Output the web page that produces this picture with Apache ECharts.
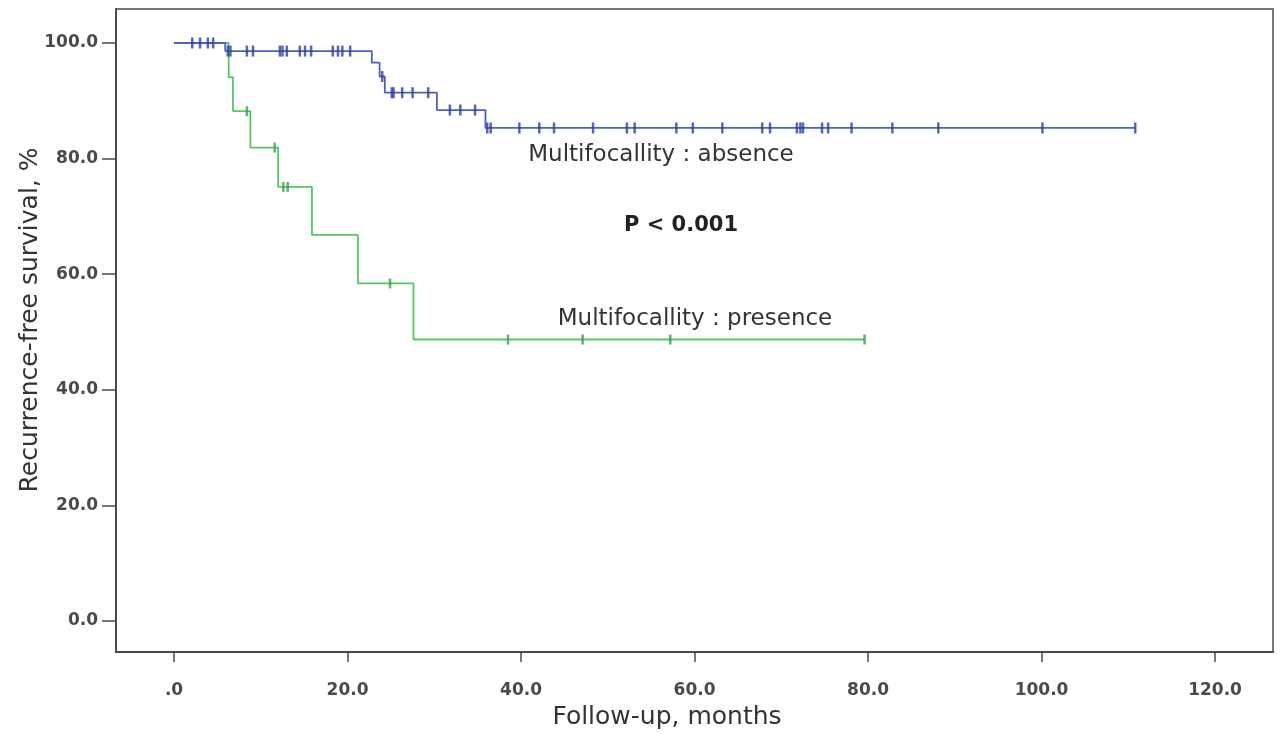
<!DOCTYPE html>
<html>
<head>
<meta charset="utf-8">
<script src="https://cdn.jsdelivr.net/npm/echarts@6/dist/echarts.min.js"></script>
<style>
    html, body { margin: 0; padding: 0; background: #fff; }
    #chart-container { width: 1283px; height: 734px; }
</style>
</head>
<body>
<div id="chart-container"></div>
<script>
// Kaplan-Meier steps (time in months, survival %)
var absenceTimes = [0, 5.9, 22.8, 23.7, 24.3, 30.3, 35.9, 110.8]
var absenceSurv = [100, 98.6, 96.6, 94.2, 91.4, 88.4, 85.3, 85.3]
var absenceCensored = [2.1, 3.0, 3.9, 4.5, 6.2, 6.5, 8.4, 9.1, 12.2, 12.5, 13.0, 14.5, 15.1, 15.8,
    18.3, 18.9, 19.4, 20.3, 24.0, 25.1, 25.3, 26.3, 27.5, 29.3, 31.8, 33.0, 34.7,
    36.1, 36.5, 39.8, 42.1, 43.8, 48.3, 52.2, 53.1, 57.9, 59.8, 63.2, 67.8, 68.7,
    71.8, 72.2, 72.5, 74.7, 75.4, 78.1, 82.8, 88.1, 100.1, 110.8]

var presenceTimes = [0, 6.3, 6.8, 8.8, 12.0, 15.9, 21.2, 27.6, 79.6]
var presenceSurv = [100, 94.1, 88.2, 81.9, 75.1, 66.8, 58.4, 48.7, 48.7]
var presenceCensored = [8.4, 11.6, 12.6, 13.1, 24.9, 38.5, 47.1, 57.2, 79.6]

var xTicks = [0, 20, 40, 60, 80, 100, 120]
var yTicks = [0, 20, 40, 60, 80, 100]

var labelAbsence = 'Multifocallity : absence'
var labelPresence = 'Multifocallity : presence'
var labelP = 'P < 0.001'

function stepPoints(times, surv) {
    var pts = []
    for (var i = 0; i < times.length; i++) {
        pts.push([times[i], surv[i]])
    }
    return pts
}

// survival level at time t, used to put censor marks on the curve
function survAt(times, surv, t) {
    var s = surv[0]
    for (var i = 0; i < times.length; i++) {
        if (times[i] <= t) s = surv[i]
    }
    return s
}

function censorPoints(times, surv, censored) {
    return censored.map(function (t) {
        return [t, survAt(times, surv, t)]
    })
}

var dom = document.getElementById('chart-container');
var myChart = echarts.init(dom, null, { renderer: 'canvas' });

var tickFont = {
    fontFamily: 'DejaVu Sans',
    fontWeight: 'bold',
    fontSize: 17,
    color: '#4a4a4a'
}

var option = {
    animation: false,
    backgroundColor: '#fff',
    grid: {
        left: 116,
        right: 10,
        top: 9,
        bottom: 82,
        show: true,
        borderColor: '#4a4a4a',
        borderWidth: 1.5
    },
    xAxis: {
        type: 'value',
        min: -6.69,
        max: 126.68,
        axisLine: { show: true, onZero: false, lineStyle: { color: '#4a4a4a', width: 2 } },
        axisTick: { show: true, customValues: xTicks, length: 10, lineStyle: { color: '#4a4a4a', width: 1.5 } },
        axisLabel: Object.assign({
            customValues: xTicks,
            margin: 30,
            formatter: function (v) { return v === 0 ? '.0' : v.toFixed(1) }
        }, tickFont),
        splitLine: { show: false }
    },
    yAxis: {
        type: 'value',
        min: -5.36,
        max: 105.88,
        axisLine: { show: true, onZero: false, lineStyle: { color: '#4a4a4a', width: 2 } },
        axisTick: { show: true, customValues: yTicks, length: 14, lineStyle: { color: '#4a4a4a', width: 1.5 } },
        axisLabel: Object.assign({
            customValues: yTicks,
            margin: 18,
            formatter: function (v) { return v.toFixed(1) }
        }, tickFont),
        splitLine: { show: false }
    },
    graphic: [
        {
            type: 'text', x: 667, y: 717,
            style: { text: 'Follow-up, months', align: 'center', verticalAlign: 'middle',
                fontFamily: 'DejaVu Sans', fontSize: 25, fill: '#333' }
        },
        {
            type: 'text',
            x: 30, y: 320, rotation: Math.PI / 2,
            style: { text: 'Recurrence-free survival, %', align: 'center', verticalAlign: 'middle',
                fontFamily: 'DejaVu Sans', fontSize: 25, fill: '#333' }
        },
        {
            type: 'text', x: 661, y: 155,
            style: { text: labelAbsence, align: 'center', verticalAlign: 'middle',
                fontFamily: 'DejaVu Sans', fontSize: 23, fill: '#333' }
        },
        {
            type: 'text', x: 681, y: 226,
            style: { text: labelP, align: 'center', verticalAlign: 'middle',
                fontFamily: 'DejaVu Sans', fontWeight: 'bold', fontSize: 21, fill: '#222' }
        },
        {
            type: 'text', x: 695, y: 319,
            style: { text: labelPresence, align: 'center', verticalAlign: 'middle',
                fontFamily: 'DejaVu Sans', fontSize: 23, fill: '#333' }
        }
    ],
    series: [
        {
            name: 'presence',
            type: 'line',
            step: 'end',
            showSymbol: false,
            data: stepPoints(presenceTimes, presenceSurv),
            lineStyle: { color: '#55c765', width: 1.8 },
            z: 2
        },
        {
            name: 'presence censored',
            type: 'scatter',
            symbol: 'rect',
            symbolSize: [2.5, 10],
            data: censorPoints(presenceTimes, presenceSurv, presenceCensored),
            itemStyle: { color: '#3f9a4e' },
            z: 3
        },
        {
            name: 'absence',
            type: 'line',
            step: 'end',
            showSymbol: false,
            data: stepPoints(absenceTimes, absenceSurv),
            lineStyle: { color: '#4a62bd', width: 1.8 },
            z: 4
        },
        {
            name: 'absence censored',
            type: 'scatter',
            symbol: 'rect',
            symbolSize: [2.5, 11],
            data: censorPoints(absenceTimes, absenceSurv, absenceCensored),
            itemStyle: { color: '#2c419c' },
            z: 5
        }
    ]
};

myChart.setOption(option);
window.addEventListener('resize', myChart.resize);
</script>
</body>
</html>
